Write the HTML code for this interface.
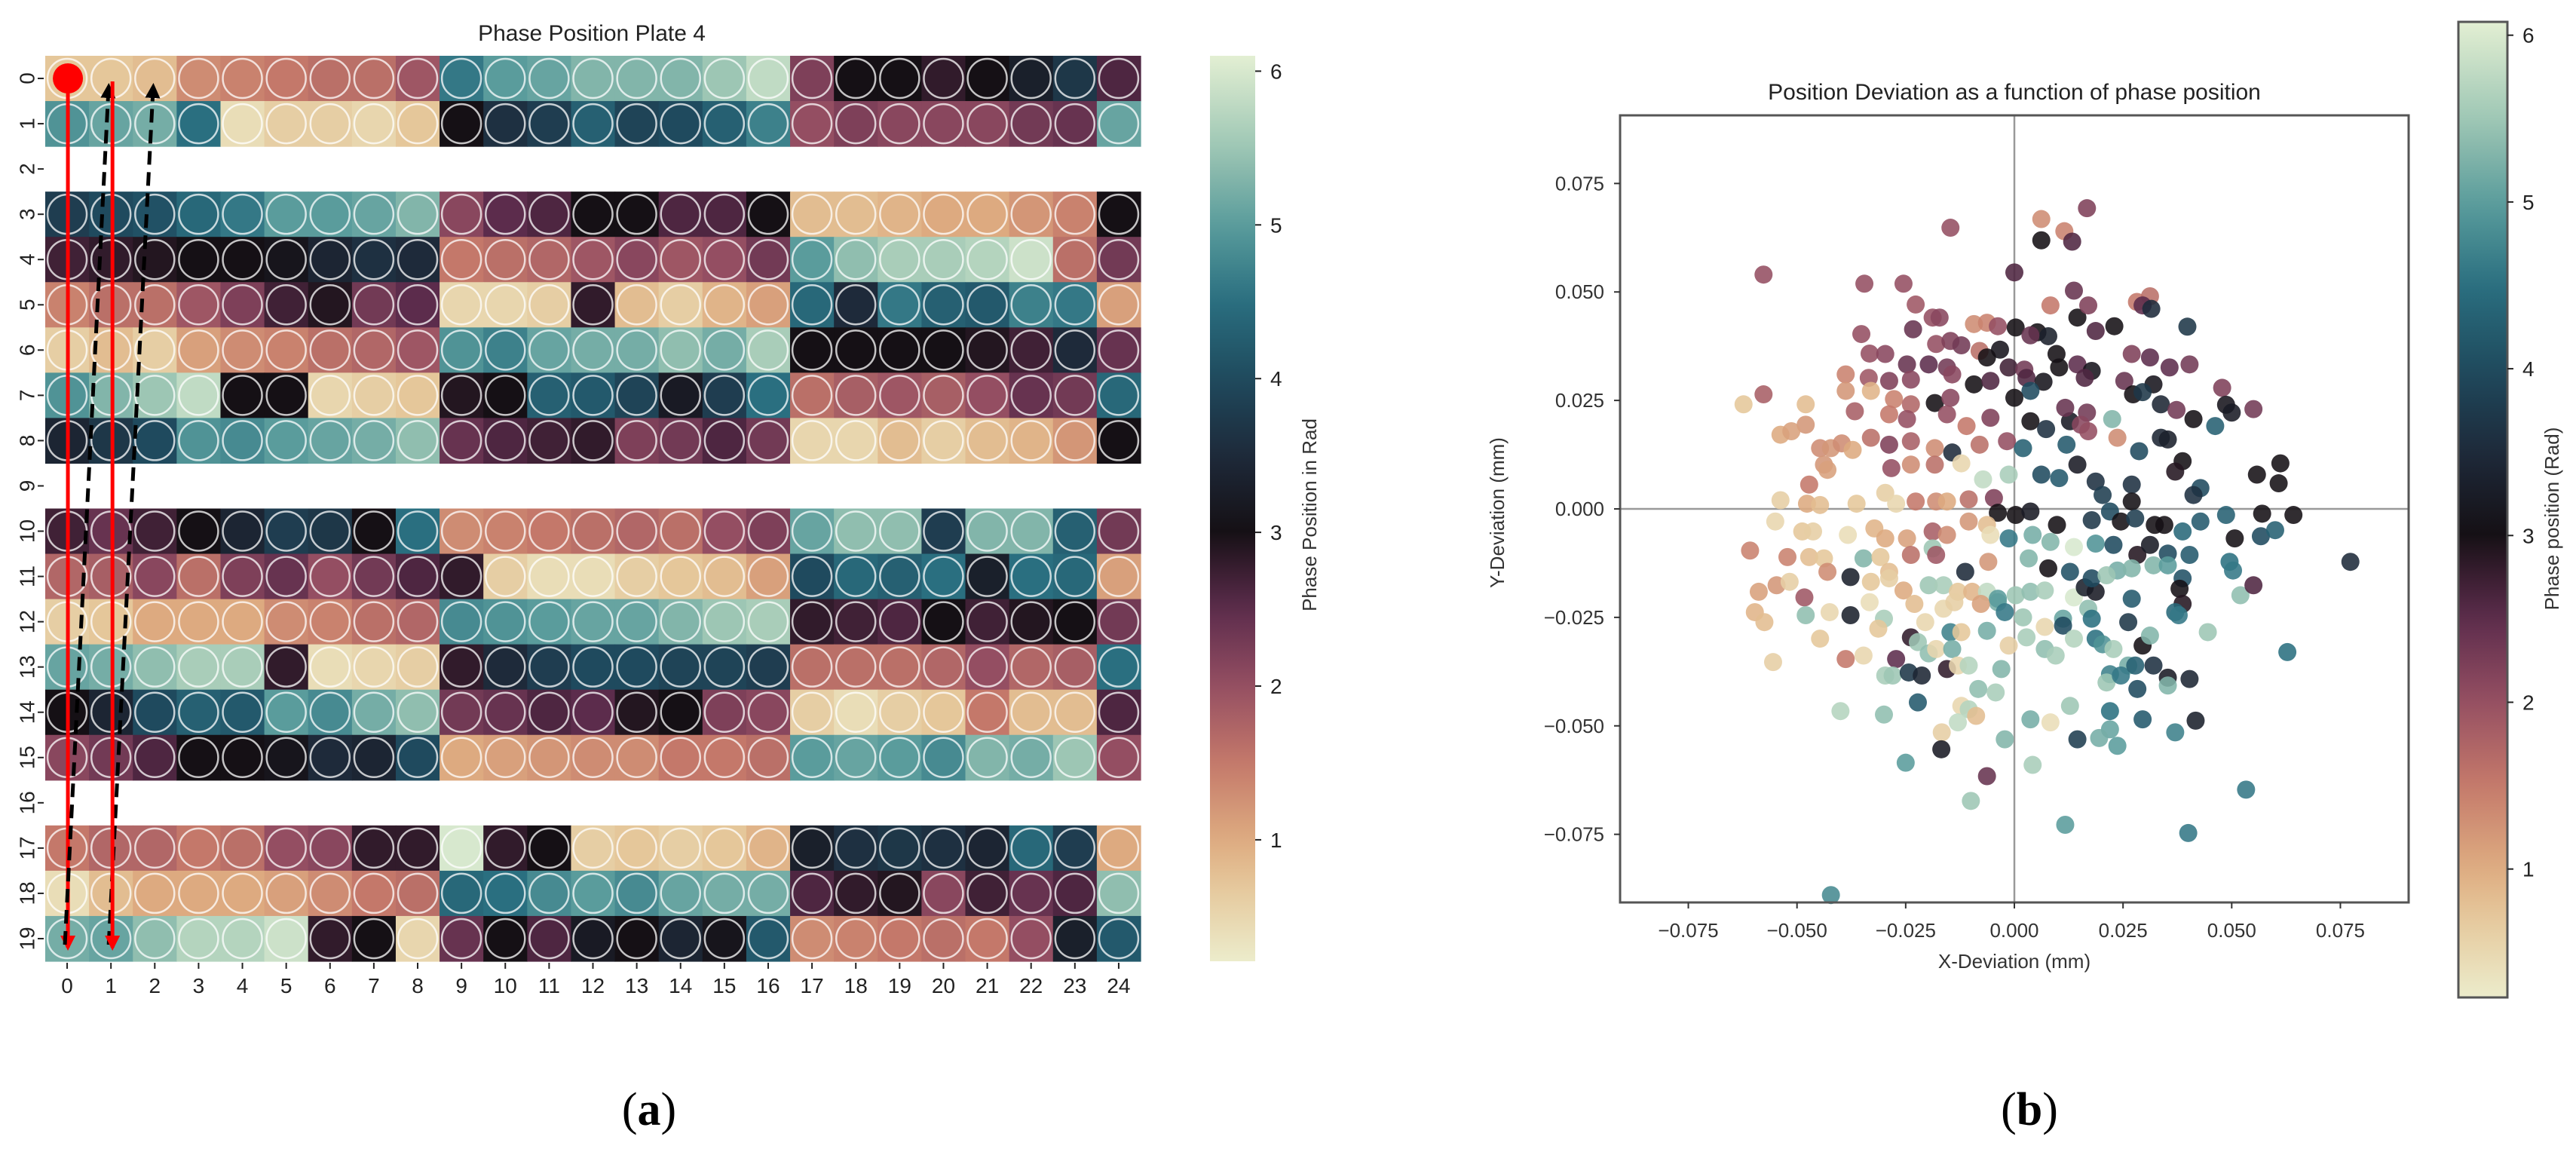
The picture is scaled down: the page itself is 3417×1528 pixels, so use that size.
<!DOCTYPE html>
<html><head><meta charset="utf-8"><style>
html,body{margin:0;padding:0;background:#fff;}
svg{display:block;font-family:"Liberation Sans",sans-serif;}
</style></head><body>
<svg id="fig" width="3417" height="1528" viewBox="0 0 3417 1528" xmlns="http://www.w3.org/2000/svg">
<defs>
<linearGradient id="cbgrad" x1="0" y1="1" x2="0" y2="0"></linearGradient>
<marker id="ahRed" viewBox="0 0 10 10" refX="8" refY="5" markerWidth="4" markerHeight="4" orient="auto"><path d="M0,0 L10,5 L0,10 z" fill="#f00"/></marker>
<marker id="ahBlk" viewBox="0 0 10 10" refX="8" refY="5" markerWidth="4" markerHeight="4" orient="auto"><path d="M0,0 L10,5 L0,10 z" fill="#000"/></marker>
</defs>
<g id="heat"></g>
<g id="heatAxes"></g>
<g id="arrows"></g>
<g id="cb1"></g>
<g id="scatter"></g>
<g id="cb2"></g>
<text x="861" y="1492" font-family="Liberation Serif,serif" font-size="62" text-anchor="middle">(<tspan font-weight="bold">a</tspan>)</text>
<text x="2692" y="1492" font-family="Liberation Serif,serif" font-size="62" text-anchor="middle">(<tspan font-weight="bold">b</tspan>)</text>
</svg>
<script>
// ---------- colormap ----------
const cmapVals = [0.2,0.7,1.0,1.5,2.0,2.5,3.0,3.5,4.0,4.5,5.0,5.5,6.1];
const cmapCols = ["#ECECCB","#E5C79A","#DDAA80","#C4786A","#944E62","#5C2C4C","#151015","#1E2A3A","#1F4A5E","#2A6F80","#5A9C9C","#9DC6B4","#E3EFD3"];
// ---------- heatmap data (rows 0..19, NaN for empty rows) ----------
const heatRowLabels = [0,1,2,3,4,5,6,7,8,9,10,11,12,13,14,15,16,17,18,19];
const heatColLabels = [0,1,2,3,4,5,6,7,8,9,10,11,12,13,14,15,16,17,18,19,20,21,22,23,24];
const heatRow0 = [0.7,0.7,0.8,1.3,1.4,1.5,1.6,1.6,1.9,4.6,5.0,5.1,5.3,5.3,5.3,5.5,5.8,2.2,3.0,3.0,2.8,3.0,3.3,3.7,2.6];
const heatRow1 = [4.9,5.1,5.2,4.5,0.4,0.6,0.6,0.5,0.7,3.0,3.6,3.8,4.3,3.9,4.0,4.3,4.7,2.0,2.2,2.1,2.1,2.1,2.3,2.4,5.1];
const heatRow3 = [3.8,4.0,4.1,4.4,4.6,5.0,5.0,5.1,5.3,2.1,2.5,2.6,3.0,3.0,2.6,2.6,3.0,0.8,0.8,0.9,1.0,1.0,1.2,1.4,3.0];
const heatRow4 = [2.7,2.8,2.9,3.0,3.0,3.1,3.4,3.6,3.5,1.5,1.6,1.7,1.9,2.1,1.9,2.0,2.3,5.0,5.4,5.6,5.6,5.7,5.9,1.6,2.3];
const heatRow5 = [1.4,1.6,1.6,1.9,2.2,2.7,2.9,2.3,2.5,0.5,0.5,0.6,2.8,0.8,0.6,0.9,1.1,4.4,3.5,4.6,4.3,4.2,4.7,4.6,1.1];
const heatRow6 = [0.6,0.8,0.6,1.1,1.3,1.4,1.6,1.7,1.9,4.9,4.7,5.1,5.2,5.2,5.4,5.2,5.6,3.0,3.0,3.0,3.0,2.9,2.7,3.5,2.4];
const heatRow7 = [4.9,5.3,5.5,5.8,3.0,3.0,0.5,0.6,0.7,2.9,3.0,4.3,4.2,3.9,3.2,3.8,4.5,1.6,1.8,1.9,1.8,2.0,2.4,2.3,4.4];
const heatRow8 = [3.4,3.7,4.0,4.9,4.8,5.0,5.1,5.2,5.4,2.4,2.6,2.7,2.8,2.2,2.3,2.6,2.3,0.5,0.5,0.8,0.6,0.8,0.9,1.2,3.0];
const heatRow10 = [2.7,2.4,2.7,3.0,3.4,3.8,3.7,3.0,4.5,1.3,1.4,1.5,1.6,1.7,1.6,2.0,2.2,5.1,5.4,5.4,3.8,5.3,5.3,4.3,2.3];
const heatRow11 = [1.7,1.8,2.1,1.6,2.2,2.4,2.0,2.3,2.6,2.8,0.6,0.4,0.4,0.6,0.7,0.8,1.1,4.0,4.4,4.3,4.5,3.3,4.5,4.4,1.1];
const heatRow12 = [0.6,0.7,1.0,1.0,1.0,1.3,1.4,1.6,1.7,4.8,4.9,5.0,5.1,5.1,5.3,5.5,5.6,2.8,2.7,2.6,3.0,2.7,2.9,3.0,2.3];
const heatRow13 = [5.1,5.2,5.4,5.6,5.6,2.8,0.4,0.5,0.6,2.8,3.5,3.8,4.0,4.0,3.9,3.9,3.8,1.6,1.6,1.6,1.7,2.0,1.7,1.8,4.5];
const heatRow14 = [3.0,3.4,4.0,4.3,4.2,5.0,4.8,5.2,5.4,2.3,2.4,2.6,2.5,2.9,3.0,2.2,2.1,0.6,0.4,0.6,0.7,1.5,0.8,0.8,2.6];
const heatRow15 = [2.1,2.3,2.6,3.0,3.0,3.1,3.5,3.4,4.0,1.0,1.1,1.2,1.3,1.3,1.5,1.5,1.6,5.0,5.1,5.0,4.8,5.3,5.2,5.5,2.0];
const heatRow17 = [1.5,1.7,1.7,1.5,1.6,2.0,2.1,2.8,2.8,6.0,2.8,3.0,0.6,0.7,0.6,0.7,0.9,3.3,3.6,3.7,3.6,3.4,4.4,3.8,1.0];
const heatRow18 = [0.4,0.8,1.0,1.0,1.0,1.1,1.3,1.5,1.6,4.4,4.5,4.8,5.0,4.8,5.1,5.2,5.2,2.6,2.8,2.9,2.1,2.7,2.4,2.6,5.4];
const heatRow19 = [5.2,5.1,5.4,5.7,5.7,5.9,2.8,3.0,0.5,2.4,3.0,2.6,3.2,3.0,3.4,3.1,4.2,1.3,1.4,1.5,1.6,1.5,2.0,3.3,4.2];
const heatTicks = [1,2,3,4,5,6];
const heatVmin = 0.21, heatVmax = 6.1;
// ---------- scatter data ----------
const scatX = [.0167,.0062,.0115,.0062,.0133,-.0147,-.0577,0,-.0345,-.0255,-.0227,.0137,.0083,.0145,.017,.0282,.0312,.0295,.0315,.023,.0187,.0398,-.0352,-.0233,-.0188,-.0172,-.0093,-.0063,-.0038,.0003,.0053,.0078,.0037,-.018,-.0147,-.0122,-.008,-.0033,-.0333,-.0297,-.0247,-.0197,-.0155,-.0143,-.0063,-.0013,.0023,.0097,.0103,.0145,.0178,.027,.0312,.0357,.0403,-.0388,-.0335,-.0288,-.0238,-.0093,-.0055,.0028,.0067,.0162,.0253,.032,.0478,.0487,.05,.055,.0273,.0295,.0337,.0373,.0412,.0462,.0225,.0128,.0167,.0117,.0037,0,-.0183,-.0147,-.0277,-.0238,-.033,-.0388,-.048,-.0577,-.0623,-.0367,-.0288,-.0247,-.0155,-.0055,.0037,.0073,.0153,.017,-.048,-.0538,-.0513,-.033,-.0288,-.0238,-.0183,-.0143,-.011,-.008,-.0017,.002,.012,.0237,.0287,.0337,.0353,-.0447,-.0422,-.0397,-.0372,-.0438,-.043,-.0283,-.0238,-.0183,-.0122,-.0072,-.0013,.0062,.0103,.0145,.0187,.0203,.027,.0387,.037,.0428,.0412,.0558,.0612,.0608,-.0472,-.0477,-.0538,-.0447,-.0363,-.0297,-.0272,-.0227,-.018,-.0155,-.0105,-.0047,-.0038,.0003,.0037,.0098,.0178,.022,.0245,.027,.0278,.0323,.0345,.0387,.0428,.0487,.0507,.057,.0567,.06,.0642,.0773,-.055,-.0488,-.0463,-.0383,-.0322,-.0297,-.0247,-.0188,-.0155,-.0105,-.0063,-.0055,-.0013,.0042,.0083,.0137,.0187,.0228,.0283,.0312,.0353,.0403,.0495,.0503,-.0608,-.0522,-.0472,-.0438,-.043,-.0347,-.0308,-.0288,-.0238,-.0188,-.018,-.0113,-.006,.0033,.0078,.0128,.0237,.027,.032,.0353,.0387,-.0377,-.0588,-.0547,-.0517,-.0483,-.033,-.0288,-.0255,-.0197,-.0163,-.013,-.0097,-.0063,-.0038,.0003,.0037,.007,.0137,.0162,.0187,.0178,.0212,.038,.0387,.052,.055,-.0597,-.0575,-.048,-.0425,-.0377,-.0333,-.03,-.023,-.0205,-.0163,-.0138,-.0077,-.0038,-.0022,.002,.007,.0112,.0112,.017,.0178,.0262,.027,.037,.0378,-.0555,-.0447,-.0388,-.0347,-.0313,-.0272,-.0238,-.0222,-.0197,-.018,-.0147,-.0122,-.0143,-.0063,-.0013,.0028,.007,.0095,.0137,.0187,.0203,.0228,.0262,.0295,.0312,.0445,.0628,-.0297,-.028,-.0243,-.0213,-.0222,-.0155,-.013,-.0105,-.0083,-.0043,-.003,.0083,.0128,.022,.0212,.0245,.0278,.0283,.032,.0353,.0353,.0403,-.04,-.03,-.0122,-.0105,-.0088,-.013,-.0167,.0037,.022,.022,.0195,.0237,.0295,.0145,.037,.0417,-.0022,-.0168,-.025,-.0063,.0042,-.01,.0117,.0533,.04,-.0422];
const scatY = [.0693,.0668,.064,.0619,.0616,.0648,.054,.0545,.0519,.0519,.0471,.0503,.0469,.0441,.0469,.0477,.049,.0469,.0461,.0421,.041,.042,.0403,.0414,.0441,.0441,.0426,.0429,.0421,.0418,.0407,.0398,.04,.038,.0387,.0377,.0364,.0367,.0358,.0357,.0333,.0333,.0326,.031,.0349,.0326,.0321,.0357,.0326,.0333,.0318,.0357,.0349,.0326,.0333,.031,.0302,.0295,.0298,.0287,.0295,.0302,.0293,.0302,.0295,.0287,.0279,.024,.0222,.023,.0264,.0269,.0241,.0228,.0207,.0191,.0207,.0202,.0222,.0233,.0272,.0256,.0244,.0256,.0253,.0241,.0272,.0272,.0241,.0264,.0241,.0225,.0218,.0207,.0218,.021,.0202,.0184,.0194,.0179,.0194,.0171,.0179,.0164,.0148,.0156,.014,.013,.0191,.0148,.0156,.014,.0148,.0164,.0133,.0164,.016,.014,.014,.0151,.0136,.0102,.009,.0094,.0102,.0102,.0105,.0068,.0079,.0079,.0071,.0102,.0063,.0032,.0056,.011,.0086,.0048,.0032,.0079,.0105,.0059,.0056,.0012,.002,.0009,.0012,.0037,.0012,.0017,.0017,.0017,.0022,.0025,-.0009,-.0014,-.0006,-.0037,-.0026,-.0006,-.0029,.0017,-.0022,-.0037,-.0037,-.0052,-.0029,-.0014,-.0068,-.0011,-.0063,-.0049,-.0014,-.0122,-.0029,-.0052,-.0052,-.006,-.0045,-.0068,-.0068,-.0052,-.006,-.0029,-.0037,-.006,-.0068,-.006,-.0076,-.0088,-.008,-.0083,-.0106,-.0083,-.0103,-.0106,-.0122,-.0142,-.0096,-.0111,-.0111,-.0114,-.0145,-.0114,-.0111,-.0145,-.0106,-.0091,-.0106,-.0145,-.0122,-.0114,-.0137,-.0145,-.0142,-.0137,-.013,-.013,-.016,-.0157,-.0191,-.0176,-.0168,-.0204,-.0168,-.016,-.0188,-.0176,-.0176,-.0191,-.0191,-.0191,-.0215,-.0199,-.0191,-.0188,-.0204,-.0181,-.0191,-.016,-.0153,-.0184,-.0219,-.0199,-.0176,-.0238,-.0261,-.0245,-.0238,-.0245,-.0215,-.0253,-.0219,-.0261,-.023,-.0215,-.0219,-.0207,-.0238,-.025,-.0272,-.0253,-.0269,-.023,-.0253,-.0261,-.0207,-.0238,-.0245,-.0353,-.0299,-.0346,-.0338,-.0276,-.0346,-.0296,-.0307,-.0333,-.0323,-.0284,-.0284,-.0323,-.0281,-.0315,-.0296,-.0323,-.0338,-.0299,-.0299,-.0312,-.0323,-.0361,-.0315,-.0292,-.0284,-.033,-.0384,-.0384,-.0377,-.0384,-.0446,-.0369,-.0361,-.0361,-.0415,-.0423,-.0369,-.0492,-.0454,-.0381,-.04,-.0384,-.0361,-.0415,-.0361,-.0389,-.0407,-.0392,-.0466,-.0474,-.0454,-.0462,-.0477,-.0492,-.0515,-.0485,-.0466,-.0508,-.0528,-.0546,-.0485,-.0531,-.0515,-.0488,-.0531,-.0554,-.0585,-.0616,-.059,-.0673,-.0728,-.0647,-.0747,-.089];
const scatPhase = [2.2,1.3,1.4,3.0,2.6,2.0,2.0,2.6,2.0,2.0,1.9,2.4,1.5,3.0,2.2,1.5,1.6,2.5,3.5,3.0,2.6,3.7,2.0,2.4,2.0,2.1,1.3,1.4,2.0,3.0,3.0,3.3,2.4,2.0,2.2,2.3,1.6,3.1,2.0,2.1,2.4,2.5,2.3,2.1,3.0,2.7,2.3,3.0,3.0,2.5,3.1,2.2,2.5,2.5,2.3,1.4,1.9,2.2,2.1,3.0,2.6,2.6,3.1,2.6,2.4,3.1,2.2,3.1,3.2,2.3,3.0,3.7,3.4,2.3,3.0,4.3,5.3,3.2,2.3,2.4,4.0,3.0,3.0,2.1,1.4,1.7,0.9,1.2,0.8,1.8,0.7,1.8,1.5,2.0,2.0,2.2,3.0,3.6,2.1,2.0,1.2,1.0,1.1,1.6,2.2,1.8,1.3,3.5,1.5,1.6,2.0,4.3,4.2,1.3,4.0,3.4,3.3,1.3,1.2,1.3,1.0,1.2,1.1,2.0,1.3,1.6,0.5,5.8,5.6,4.0,4.2,3.2,3.6,3.8,3.6,3.0,2.9,4.0,3.6,3.0,3.0,3.0,1.5,1.0,0.6,0.8,0.7,0.6,0.5,1.5,1.3,1.0,1.6,2.2,3.0,3.0,3.2,3.0,3.7,4.0,3.0,3.0,3.8,3.0,3.0,4.4,4.2,4.3,3.0,3.0,4.0,4.3,3.0,3.5,0.5,0.7,0.6,0.4,0.9,1.0,1.1,1.8,1.3,1.2,0.8,0.4,4.6,5.2,5.3,6.0,4.9,4.0,2.9,3.2,4.0,4.2,4.5,4.6,1.4,1.4,0.8,0.7,1.3,5.3,0.7,0.8,1.6,5.5,1.9,3.5,1.2,5.3,3.0,4.1,5.2,5.3,5.3,5.0,4.1,3.3,1.1,1.2,0.6,1.9,0.7,0.6,1.0,5.5,5.6,0.7,0.9,5.8,5.2,5.5,5.4,5.6,6.0,3.3,3.2,4.0,5.5,3.0,2.9,5.4,2.6,0.9,0.8,5.4,0.5,3.3,0.4,5.6,0.8,0.5,0.5,0.6,1.1,5.0,4.6,5.5,0.5,5.1,4.0,5.4,4.5,3.7,4.2,4.4,4.6,0.6,0.7,1.5,0.5,0.7,2.5,2.8,5.5,5.4,0.5,4.7,0.7,5.2,5.2,0.6,5.6,5.4,5.6,5.7,4.5,4.9,5.6,5.2,3.0,5.3,5.5,4.5,5.6,5.5,3.7,3.4,4.2,2.8,0.5,5.7,5.4,5.6,5.3,0.4,5.5,4.7,5.5,4.6,4.3,4.0,3.6,3.2,5.3,3.4,5.7,5.4,0.5,5.7,0.8,5.8,0.6,5.2,4.5,5.1,5.2,5.0,4.2,3.8,4.7,3.3,5.3,3.2,5.0,2.4,5.6,5.5,5.0,4.6,4.6,4.8];
const scatXTicks = [-0.075,-0.05,-0.025,0,0.025,0.05,0.075];
const scatYTicks = [-0.075,-0.05,-0.025,0,0.025,0.05,0.075];
const scatXTickLabels = ["\u22120.075","\u22120.050","\u22120.025","0.000","0.025","0.050","0.075"];
const scatYTickLabels = ["\u22120.075","\u22120.050","\u22120.025","0.000","0.025","0.050","0.075"];
const scatCbTicks = [1,2,3,4,5,6];
const scatVmin = 0.23, scatVmax = 6.08;

const NS="http://www.w3.org/2000/svg";
function mk(tag, attrs, parent){const e=document.createElementNS(NS,tag);for(const k in attrs)e.setAttribute(k,attrs[k]);parent.appendChild(e);return e;}
function hex(h){return [parseInt(h.substr(1,2),16),parseInt(h.substr(3,2),16),parseInt(h.substr(5,2),16)];}
function cmap(v){
  if(v<=cmapVals[0])return cmapCols[0];
  for(let i=1;i<cmapVals.length;i++){
    if(v<=cmapVals[i]){const t=(v-cmapVals[i-1])/(cmapVals[i]-cmapVals[i-1]);const a=hex(cmapCols[i-1]),b=hex(cmapCols[i]);
      return "rgb("+a.map((c,j)=>Math.round(c+(b[j]-c)*t)).join(",")+")";}
  }
  return cmapCols[cmapCols.length-1];
}

// ---------- heatmap ----------
const heatRows = {0:heatRow0,1:heatRow1,3:heatRow3,4:heatRow4,5:heatRow5,6:heatRow6,7:heatRow7,8:heatRow8,10:heatRow10,11:heatRow11,12:heatRow12,13:heatRow13,14:heatRow14,15:heatRow15,17:heatRow17,18:heatRow18,19:heatRow19};
const hx0=60,hx1=1513,hy0=74,hy1=1275;
const cw=(hx1-hx0)/heatColLabels.length, ch=(hy1-hy0)/heatRowLabels.length;
const colX=c=>hx0+cw*(c+0.5), rowY=r=>hy0+ch*(r+0.5);
const heat=document.getElementById('heat');
for(const r in heatRows){
  const vals=heatRows[r];
  vals.forEach((v,c)=>{
    const col=cmap(v);
    const rect=mk('rect',{x:hx0+cw*c,y:hy0+ch*r,width:cw+0.6,height:ch+0.6,fill:col},heat);
    
    
    const circ=mk('circle',{cx:colX(c),cy:rowY(+r),r:26,fill:col,stroke:'rgba(255,255,255,0.75)','stroke-width':2.5},heat);
    
    
  });
}
const ha=document.getElementById('heatAxes');
const ht=mk('text',{x:785,y:54,'font-size':30,'text-anchor':'middle',fill:'#222'},ha);ht.textContent="Phase Position Plate 4";


heatRowLabels.forEach((lab,r)=>{
  const y=rowY(r);
  mk('line',{x1:50,x2:58,y1:y,y2:y,stroke:'#222','stroke-width':2},ha);
  const t=mk('text',{x:0,y:0,'font-size':28,'text-anchor':'middle',fill:'#222',transform:`translate(36 ${y}) rotate(-90)`,'dominant-baseline':'central'},ha);
  t.textContent=lab;
  
  
});
heatColLabels.forEach((lab,c)=>{
  const x=colX(c);
  mk('line',{x1:x,x2:x,y1:hy1+2,y2:hy1+10,stroke:'#222','stroke-width':2},ha);
  const t=mk('text',{x:x,y:1317,'font-size':28,'text-anchor':'middle',fill:'#222'},ha);
  t.textContent=lab;
  
  
});

// ---------- arrows ----------
const ar=document.getElementById('arrows');
mk('line',{x1:colX(0)+1,y1:rowY(0),x2:colX(0)+1,y2:rowY(19)+12,stroke:'#f00','stroke-width':5,'marker-end':'url(#ahRed)'},ar);
mk('line',{x1:colX(0)-3,y1:rowY(19)+8,x2:colX(1)-3,y2:rowY(0)+10,stroke:'#000','stroke-width':5,'stroke-dasharray':'18 10','marker-end':'url(#ahBlk)'},ar);
mk('line',{x1:colX(1)-3,y1:rowY(19)+8,x2:colX(2)-2,y2:rowY(0)+10,stroke:'#000','stroke-width':5,'stroke-dasharray':'18 10','marker-end':'url(#ahBlk)'},ar);
mk('line',{x1:colX(1)+2,y1:rowY(0)+4,x2:colX(1)+2,y2:rowY(19)+12,stroke:'#f00','stroke-width':5,'marker-end':'url(#ahRed)'},ar);
const dot=mk('circle',{cx:colX(0)+1,cy:rowY(0),r:20,fill:'#f00'},ar);



// ---------- gradient ----------
const grad=document.getElementById('cbgrad');
for(let i=0;i<=40;i++){const v=0.2+(6.1-0.2)*i/40;mk('stop',{offset:(i/40),'stop-color':cmap(v)},grad);}

function colorbar(gid,x0,x1,y0,y1,vmin,vmax,ticks,labelX,labelText,labelY,tickX,border){
  const g=document.getElementById(gid);
  mk('rect',{x:x0,y:y0,width:x1-x0,height:y1-y0,fill:'url(#cbgrad)',stroke:border?'#555':'none','stroke-width':border?3:0},g);
  ticks.forEach(t=>{
    const y=y1-(t-vmin)/(vmax-vmin)*(y1-y0);
    mk('line',{x1:x1,x2:x1+8,y1:y,y2:y,stroke:'#222','stroke-width':2},g);
    const tx=mk('text',{x:tickX,y:y+10,'font-size':28,fill:'#222'},g);tx.textContent=t;
    
    
  });
  const lt=mk('text',{x:0,y:0,'font-size':26,'text-anchor':'middle',fill:'#333',transform:`translate(${labelX} ${labelY}) rotate(-90)`},g);
  lt.textContent=labelText;
  
  
}
colorbar('cb1',1605,1665,74,1275,heatVmin,heatVmax,heatTicks,1746,"Phase Position in Rad",683,1685,false);
colorbar('cb2',3261,3326,29,1323,scatVmin,scatVmax,scatCbTicks,3394,"Phase position (Rad)",688,3346,true);

// ---------- scatter ----------
const sc=document.getElementById('scatter');
const px0=2149,px1=3195,py0=153,py1=1197,lim=0.0907;
const sx=v=>px0+(v+lim)/(2*lim)*(px1-px0);
const sy=v=>py1-(v+lim)/(2*lim)*(py1-py0);
const st=mk('text',{x:2672,y:132,'font-size':30,'text-anchor':'middle',fill:'#222'},sc);st.textContent="Position Deviation as a function of phase position";


mk('line',{x1:sx(0),x2:sx(0),y1:py0,y2:py1,stroke:'#999','stroke-width':2.5},sc);
mk('line',{x1:px0,x2:px1,y1:sy(0),y2:sy(0),stroke:'#999','stroke-width':2.5},sc);
scatX.forEach((x,i)=>{
  const c=mk('circle',{cx:sx(x),cy:sy(scatY[i]),r:12,fill:cmap(scatPhase[i]),'fill-opacity':0.88},sc);
  
  
});
mk('rect',{x:px0,y:py0,width:px1-px0,height:py1-py0,fill:'none',stroke:'#555','stroke-width':3},sc);
scatXTicks.forEach((t,i)=>{
  const x=sx(t);
  mk('line',{x1:x,x2:x,y1:py1,y2:py1+8,stroke:'#333','stroke-width':2},sc);
  const tx=mk('text',{x:x,y:1243,'font-size':26,'text-anchor':'middle',fill:'#333'},sc);tx.textContent=scatXTickLabels[i];
  
  
});
scatYTicks.forEach((t,i)=>{
  const y=sy(t);
  mk('line',{x1:px0-8,x2:px0,y1:y,y2:y,stroke:'#333','stroke-width':2},sc);
  const tx=mk('text',{x:2128,y:y+9,'font-size':26,'text-anchor':'end',fill:'#333'},sc);tx.textContent=scatYTickLabels[i];
  
  
});
const xl=mk('text',{x:2672,y:1284,'font-size':26,'text-anchor':'middle',fill:'#333'},sc);xl.textContent="X-Deviation (mm)";


const yl=mk('text',{x:0,y:0,'font-size':26,'text-anchor':'middle',fill:'#333',transform:'translate(1995 680) rotate(-90)'},sc);yl.textContent="Y-Deviation (mm)";


</script>
</body></html>
